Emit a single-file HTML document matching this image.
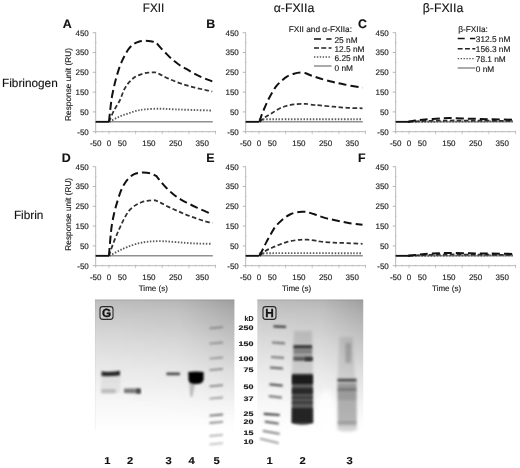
<!DOCTYPE html><html><head><meta charset="utf-8"><style>html,body{margin:0;padding:0;background:#fff;overflow:hidden}svg{display:block;filter:grayscale(1)}text{text-rendering:geometricPrecision;font-family:"Liberation Sans", sans-serif;stroke:#1a1a1a;stroke-width:0.15px}</style></head><body>
<svg width="520" height="468" viewBox="0 0 520 468">
<defs>
</defs>
<text transform="translate(153.5,11.5) scale(0.95,1)" font-size="12.3" text-anchor="middle" fill="#111">FXII</text>
<text x="294" y="11.5" font-size="12.3" text-anchor="middle" fill="#111">α-FXIIa</text>
<text x="443" y="11.5" font-size="12.3" text-anchor="middle" fill="#111">β-FXIIa</text>
<text x="2" y="86.5" font-size="11.8" fill="#111">Fibrinogen</text>
<text x="13.9" y="219.3" font-size="11.8" fill="#111">Fibrin</text>
<text x="62.8" y="28.3" font-size="12.4" font-weight="bold" fill="#111">A</text>
<line x1="95.7" y1="32.5" x2="95.7" y2="133.5" stroke="#a4a4a4" stroke-width="0.8"/>
<line x1="92.7" y1="131.7" x2="95.7" y2="131.7" stroke="#a4a4a4" stroke-width="0.8"/>
<text x="88.8" y="134.6" font-size="8" text-anchor="end" fill="#222">-50</text>
<line x1="94.7" y1="121.8" x2="96.7" y2="121.8" stroke="#c0c0c0" stroke-width="0.7"/>
<line x1="92.7" y1="111.9" x2="95.7" y2="111.9" stroke="#a4a4a4" stroke-width="0.8"/>
<text x="88.8" y="114.8" font-size="8" text-anchor="end" fill="#222">50</text>
<line x1="94.7" y1="102.0" x2="96.7" y2="102.0" stroke="#c0c0c0" stroke-width="0.7"/>
<line x1="92.7" y1="92.1" x2="95.7" y2="92.1" stroke="#a4a4a4" stroke-width="0.8"/>
<text x="88.8" y="95.0" font-size="8" text-anchor="end" fill="#222">150</text>
<line x1="94.7" y1="82.2" x2="96.7" y2="82.2" stroke="#c0c0c0" stroke-width="0.7"/>
<line x1="92.7" y1="72.3" x2="95.7" y2="72.3" stroke="#a4a4a4" stroke-width="0.8"/>
<text x="88.8" y="75.2" font-size="8" text-anchor="end" fill="#222">250</text>
<line x1="94.7" y1="62.4" x2="96.7" y2="62.4" stroke="#c0c0c0" stroke-width="0.7"/>
<line x1="92.7" y1="52.5" x2="95.7" y2="52.5" stroke="#a4a4a4" stroke-width="0.8"/>
<text x="88.8" y="55.4" font-size="8" text-anchor="end" fill="#222">350</text>
<line x1="94.7" y1="42.6" x2="96.7" y2="42.6" stroke="#c0c0c0" stroke-width="0.7"/>
<line x1="92.7" y1="32.7" x2="95.7" y2="32.7" stroke="#a4a4a4" stroke-width="0.8"/>
<text x="88.8" y="35.6" font-size="8" text-anchor="end" fill="#222">450</text>
<line x1="95.7" y1="131.7" x2="216.0" y2="131.7" stroke="#a4a4a4" stroke-width="0.8"/>
<line x1="95.7" y1="130.7" x2="95.7" y2="132.7" stroke="#c0c0c0" stroke-width="0.6"/>
<line x1="102.3" y1="130.7" x2="102.3" y2="132.7" stroke="#c0c0c0" stroke-width="0.6"/>
<line x1="109.0" y1="130.7" x2="109.0" y2="134.2" stroke="#b0b0b0" stroke-width="0.7"/>
<line x1="115.7" y1="130.7" x2="115.7" y2="132.7" stroke="#c0c0c0" stroke-width="0.6"/>
<line x1="122.3" y1="130.7" x2="122.3" y2="132.7" stroke="#c0c0c0" stroke-width="0.6"/>
<line x1="129.0" y1="130.7" x2="129.0" y2="132.7" stroke="#c0c0c0" stroke-width="0.6"/>
<line x1="135.6" y1="130.7" x2="135.6" y2="134.2" stroke="#b0b0b0" stroke-width="0.7"/>
<line x1="142.3" y1="130.7" x2="142.3" y2="132.7" stroke="#c0c0c0" stroke-width="0.6"/>
<line x1="148.9" y1="130.7" x2="148.9" y2="132.7" stroke="#c0c0c0" stroke-width="0.6"/>
<line x1="155.6" y1="130.7" x2="155.6" y2="132.7" stroke="#c0c0c0" stroke-width="0.6"/>
<line x1="162.2" y1="130.7" x2="162.2" y2="134.2" stroke="#b0b0b0" stroke-width="0.7"/>
<line x1="168.9" y1="130.7" x2="168.9" y2="132.7" stroke="#c0c0c0" stroke-width="0.6"/>
<line x1="175.6" y1="130.7" x2="175.6" y2="132.7" stroke="#c0c0c0" stroke-width="0.6"/>
<line x1="182.2" y1="130.7" x2="182.2" y2="132.7" stroke="#c0c0c0" stroke-width="0.6"/>
<line x1="188.9" y1="130.7" x2="188.9" y2="134.2" stroke="#b0b0b0" stroke-width="0.7"/>
<line x1="195.5" y1="130.7" x2="195.5" y2="132.7" stroke="#c0c0c0" stroke-width="0.6"/>
<line x1="202.2" y1="130.7" x2="202.2" y2="132.7" stroke="#c0c0c0" stroke-width="0.6"/>
<line x1="208.8" y1="130.7" x2="208.8" y2="132.7" stroke="#c0c0c0" stroke-width="0.6"/>
<line x1="215.5" y1="130.7" x2="215.5" y2="134.2" stroke="#b0b0b0" stroke-width="0.7"/>
<text x="95.7" y="145.7" font-size="8" text-anchor="middle" fill="#222">-50</text>
<text x="109.0" y="145.7" font-size="8" text-anchor="middle" fill="#222">0</text>
<text x="122.3" y="145.7" font-size="8" text-anchor="middle" fill="#222">50</text>
<text x="148.9" y="145.7" font-size="8" text-anchor="middle" fill="#222">150</text>
<text x="175.6" y="145.7" font-size="8" text-anchor="middle" fill="#222">250</text>
<text x="202.2" y="145.7" font-size="8" text-anchor="middle" fill="#222">350</text>
<text transform="translate(71.3,84.5) rotate(-90)" font-size="8.3" text-anchor="middle" fill="#222">Response unit (RU)</text>
<line x1="95.7" y1="121.8" x2="212.8" y2="121.8" stroke="#909090" stroke-width="1.6" fill="none"/>
<line x1="95.7" y1="121.8" x2="109.0" y2="121.8" stroke="#111" stroke-width="1.8"/>
<path d="M109.40,121.80 C110.88,121.02 115.35,118.43 118.30,117.10 C121.25,115.77 124.15,114.83 127.10,113.80 C130.05,112.77 133.05,111.63 136.00,110.90 C138.95,110.17 140.75,109.77 144.80,109.40 C148.85,109.03 155.13,108.70 160.30,108.70 C165.47,108.70 170.27,109.18 175.80,109.40 C181.33,109.62 187.42,109.82 193.50,110.00 C199.58,110.18 209.17,110.42 212.30,110.50" stroke="#5e5e5e" stroke-width="1.9" stroke-dasharray="1.5 1.6" fill="none"/>
<path d="M108.90,121.80 C109.75,119.92 112.15,114.13 114.00,110.50 C115.85,106.87 118.27,103.57 120.00,100.00 C121.73,96.43 122.78,92.17 124.40,89.10 C126.02,86.03 127.95,83.60 129.70,81.60 C131.45,79.60 132.92,78.35 134.90,77.10 C136.88,75.85 139.35,74.85 141.60,74.10 C143.85,73.35 146.15,72.90 148.40,72.60 C150.65,72.30 153.98,72.35 155.10,72.30 C156.00,72.68 158.37,73.58 160.50,74.60 C162.63,75.62 165.17,77.15 167.90,78.40 C170.63,79.65 173.90,80.98 176.90,82.10 C179.90,83.22 182.90,84.18 185.90,85.10 C188.90,86.02 191.92,86.85 194.90,87.60 C197.88,88.35 200.90,88.95 203.80,89.60 C206.70,90.25 210.88,91.18 212.30,91.50" stroke="#303030" stroke-width="1.75" stroke-dasharray="4.5 2.5" fill="none"/>
<path d="M108.90,121.80 C109.13,119.75 109.83,113.47 110.30,109.50 C110.77,105.53 111.08,101.78 111.70,98.00 C112.32,94.22 113.25,90.15 114.00,86.80 C114.75,83.45 115.33,81.02 116.20,77.90 C117.07,74.78 118.20,70.97 119.20,68.10 C120.20,65.23 121.20,62.93 122.20,60.70 C123.20,58.47 124.08,56.70 125.20,54.70 C126.32,52.70 127.53,50.45 128.90,48.70 C130.27,46.95 131.77,45.37 133.40,44.20 C135.03,43.03 136.83,42.27 138.70,41.70 C140.57,41.13 142.62,40.88 144.60,40.80 C146.58,40.72 148.65,40.90 150.60,41.20 C152.55,41.50 155.35,42.37 156.30,42.60 C157.00,43.45 159.05,46.10 160.50,47.70 C161.95,49.30 163.27,50.45 165.00,52.20 C166.73,53.95 168.67,56.20 170.90,58.20 C173.13,60.20 175.90,62.45 178.40,64.20 C180.90,65.95 183.40,67.22 185.90,68.70 C188.40,70.18 190.90,71.73 193.40,73.10 C195.90,74.47 198.42,75.77 200.90,76.90 C203.38,78.03 206.40,79.15 208.30,79.90 C210.20,80.65 211.63,81.15 212.30,81.40" stroke="#111" stroke-width="2" stroke-dasharray="8 4" fill="none"/>
<text x="206.2" y="28.3" font-size="12.4" font-weight="bold" fill="#111">B</text>
<line x1="245.7" y1="32.5" x2="245.7" y2="133.5" stroke="#a4a4a4" stroke-width="0.8"/>
<line x1="242.7" y1="131.7" x2="245.7" y2="131.7" stroke="#a4a4a4" stroke-width="0.8"/>
<text x="238.8" y="134.6" font-size="8" text-anchor="end" fill="#222">-50</text>
<line x1="244.7" y1="121.8" x2="246.7" y2="121.8" stroke="#c0c0c0" stroke-width="0.7"/>
<line x1="242.7" y1="111.9" x2="245.7" y2="111.9" stroke="#a4a4a4" stroke-width="0.8"/>
<text x="238.8" y="114.8" font-size="8" text-anchor="end" fill="#222">50</text>
<line x1="244.7" y1="102.0" x2="246.7" y2="102.0" stroke="#c0c0c0" stroke-width="0.7"/>
<line x1="242.7" y1="92.1" x2="245.7" y2="92.1" stroke="#a4a4a4" stroke-width="0.8"/>
<text x="238.8" y="95.0" font-size="8" text-anchor="end" fill="#222">150</text>
<line x1="244.7" y1="82.2" x2="246.7" y2="82.2" stroke="#c0c0c0" stroke-width="0.7"/>
<line x1="242.7" y1="72.3" x2="245.7" y2="72.3" stroke="#a4a4a4" stroke-width="0.8"/>
<text x="238.8" y="75.2" font-size="8" text-anchor="end" fill="#222">250</text>
<line x1="244.7" y1="62.4" x2="246.7" y2="62.4" stroke="#c0c0c0" stroke-width="0.7"/>
<line x1="242.7" y1="52.5" x2="245.7" y2="52.5" stroke="#a4a4a4" stroke-width="0.8"/>
<text x="238.8" y="55.4" font-size="8" text-anchor="end" fill="#222">350</text>
<line x1="244.7" y1="42.6" x2="246.7" y2="42.6" stroke="#c0c0c0" stroke-width="0.7"/>
<line x1="242.7" y1="32.7" x2="245.7" y2="32.7" stroke="#a4a4a4" stroke-width="0.8"/>
<text x="238.8" y="35.6" font-size="8" text-anchor="end" fill="#222">450</text>
<line x1="245.7" y1="131.7" x2="366.0" y2="131.7" stroke="#a4a4a4" stroke-width="0.8"/>
<line x1="245.7" y1="130.7" x2="245.7" y2="132.7" stroke="#c0c0c0" stroke-width="0.6"/>
<line x1="252.3" y1="130.7" x2="252.3" y2="132.7" stroke="#c0c0c0" stroke-width="0.6"/>
<line x1="259.0" y1="130.7" x2="259.0" y2="134.2" stroke="#b0b0b0" stroke-width="0.7"/>
<line x1="265.7" y1="130.7" x2="265.7" y2="132.7" stroke="#c0c0c0" stroke-width="0.6"/>
<line x1="272.3" y1="130.7" x2="272.3" y2="132.7" stroke="#c0c0c0" stroke-width="0.6"/>
<line x1="279.0" y1="130.7" x2="279.0" y2="132.7" stroke="#c0c0c0" stroke-width="0.6"/>
<line x1="285.6" y1="130.7" x2="285.6" y2="134.2" stroke="#b0b0b0" stroke-width="0.7"/>
<line x1="292.3" y1="130.7" x2="292.3" y2="132.7" stroke="#c0c0c0" stroke-width="0.6"/>
<line x1="298.9" y1="130.7" x2="298.9" y2="132.7" stroke="#c0c0c0" stroke-width="0.6"/>
<line x1="305.6" y1="130.7" x2="305.6" y2="132.7" stroke="#c0c0c0" stroke-width="0.6"/>
<line x1="312.2" y1="130.7" x2="312.2" y2="134.2" stroke="#b0b0b0" stroke-width="0.7"/>
<line x1="318.9" y1="130.7" x2="318.9" y2="132.7" stroke="#c0c0c0" stroke-width="0.6"/>
<line x1="325.6" y1="130.7" x2="325.6" y2="132.7" stroke="#c0c0c0" stroke-width="0.6"/>
<line x1="332.2" y1="130.7" x2="332.2" y2="132.7" stroke="#c0c0c0" stroke-width="0.6"/>
<line x1="338.9" y1="130.7" x2="338.9" y2="134.2" stroke="#b0b0b0" stroke-width="0.7"/>
<line x1="345.5" y1="130.7" x2="345.5" y2="132.7" stroke="#c0c0c0" stroke-width="0.6"/>
<line x1="352.2" y1="130.7" x2="352.2" y2="132.7" stroke="#c0c0c0" stroke-width="0.6"/>
<line x1="358.8" y1="130.7" x2="358.8" y2="132.7" stroke="#c0c0c0" stroke-width="0.6"/>
<line x1="365.5" y1="130.7" x2="365.5" y2="134.2" stroke="#b0b0b0" stroke-width="0.7"/>
<text x="245.7" y="145.7" font-size="8" text-anchor="middle" fill="#222">-50</text>
<text x="259.0" y="145.7" font-size="8" text-anchor="middle" fill="#222">0</text>
<text x="272.3" y="145.7" font-size="8" text-anchor="middle" fill="#222">50</text>
<text x="298.9" y="145.7" font-size="8" text-anchor="middle" fill="#222">150</text>
<text x="325.6" y="145.7" font-size="8" text-anchor="middle" fill="#222">250</text>
<text x="352.2" y="145.7" font-size="8" text-anchor="middle" fill="#222">350</text>
<line x1="245.7" y1="121.8" x2="362.8" y2="121.8" stroke="#909090" stroke-width="1.6" fill="none"/>
<line x1="245.7" y1="121.8" x2="259.0" y2="121.8" stroke="#111" stroke-width="1.8"/>
<path d="M260.00,121.80 C260.50,121.47 261.83,120.22 263.00,119.80 C264.17,119.38 250.42,119.38 267.00,119.30 C283.58,119.22 346.58,119.30 362.50,119.30" stroke="#5e5e5e" stroke-width="1.9" stroke-dasharray="1.5 1.6" fill="none"/>
<path d="M259.50,121.80 C260.55,120.97 263.63,118.30 265.80,116.80 C267.97,115.30 270.27,114.15 272.50,112.80 C274.73,111.45 276.95,109.83 279.20,108.70 C281.45,107.57 283.53,106.72 286.00,106.00 C288.47,105.28 291.32,104.77 294.00,104.40 C296.68,104.03 299.93,103.87 302.10,103.80 C304.27,103.73 306.18,103.97 307.00,104.00 C308.20,104.17 312.00,104.77 314.20,105.00 C316.40,105.23 316.97,105.12 320.20,105.40 C323.43,105.68 329.12,106.30 333.60,106.70 C338.08,107.10 342.28,107.53 347.10,107.80 C351.92,108.07 359.93,108.22 362.50,108.30" stroke="#303030" stroke-width="1.75" stroke-dasharray="4.5 2.5" fill="none"/>
<path d="M259.50,121.80 C259.87,120.63 260.77,117.32 261.70,114.80 C262.63,112.28 263.97,109.28 265.10,106.70 C266.23,104.12 267.27,101.77 268.50,99.30 C269.73,96.83 271.17,94.13 272.50,91.90 C273.83,89.67 274.93,87.80 276.50,85.90 C278.07,84.00 280.10,82.08 281.90,80.50 C283.70,78.92 285.28,77.53 287.30,76.40 C289.32,75.27 291.75,74.33 294.00,73.70 C296.25,73.07 298.83,72.68 300.80,72.60 C302.77,72.52 304.97,73.10 305.80,73.20 C306.85,73.63 309.70,74.92 312.10,75.80 C314.50,76.68 316.83,77.50 320.20,78.50 C323.57,79.50 328.27,80.80 332.30,81.80 C336.33,82.80 339.92,83.60 344.40,84.50 C348.88,85.40 356.18,86.67 359.20,87.20 C362.22,87.73 361.95,87.62 362.50,87.70" stroke="#111" stroke-width="2" stroke-dasharray="8 4" fill="none"/>
<text x="358.1" y="28.3" font-size="12.4" font-weight="bold" fill="#111">C</text>
<line x1="395.7" y1="32.5" x2="395.7" y2="133.5" stroke="#a4a4a4" stroke-width="0.8"/>
<line x1="392.7" y1="131.7" x2="395.7" y2="131.7" stroke="#a4a4a4" stroke-width="0.8"/>
<text x="388.8" y="134.6" font-size="8" text-anchor="end" fill="#222">-50</text>
<line x1="394.7" y1="121.8" x2="396.7" y2="121.8" stroke="#c0c0c0" stroke-width="0.7"/>
<line x1="392.7" y1="111.9" x2="395.7" y2="111.9" stroke="#a4a4a4" stroke-width="0.8"/>
<text x="388.8" y="114.8" font-size="8" text-anchor="end" fill="#222">50</text>
<line x1="394.7" y1="102.0" x2="396.7" y2="102.0" stroke="#c0c0c0" stroke-width="0.7"/>
<line x1="392.7" y1="92.1" x2="395.7" y2="92.1" stroke="#a4a4a4" stroke-width="0.8"/>
<text x="388.8" y="95.0" font-size="8" text-anchor="end" fill="#222">150</text>
<line x1="394.7" y1="82.2" x2="396.7" y2="82.2" stroke="#c0c0c0" stroke-width="0.7"/>
<line x1="392.7" y1="72.3" x2="395.7" y2="72.3" stroke="#a4a4a4" stroke-width="0.8"/>
<text x="388.8" y="75.2" font-size="8" text-anchor="end" fill="#222">250</text>
<line x1="394.7" y1="62.4" x2="396.7" y2="62.4" stroke="#c0c0c0" stroke-width="0.7"/>
<line x1="392.7" y1="52.5" x2="395.7" y2="52.5" stroke="#a4a4a4" stroke-width="0.8"/>
<text x="388.8" y="55.4" font-size="8" text-anchor="end" fill="#222">350</text>
<line x1="394.7" y1="42.6" x2="396.7" y2="42.6" stroke="#c0c0c0" stroke-width="0.7"/>
<line x1="392.7" y1="32.7" x2="395.7" y2="32.7" stroke="#a4a4a4" stroke-width="0.8"/>
<text x="388.8" y="35.6" font-size="8" text-anchor="end" fill="#222">450</text>
<line x1="395.7" y1="131.7" x2="516.0" y2="131.7" stroke="#a4a4a4" stroke-width="0.8"/>
<line x1="395.7" y1="130.7" x2="395.7" y2="132.7" stroke="#c0c0c0" stroke-width="0.6"/>
<line x1="402.3" y1="130.7" x2="402.3" y2="132.7" stroke="#c0c0c0" stroke-width="0.6"/>
<line x1="409.0" y1="130.7" x2="409.0" y2="134.2" stroke="#b0b0b0" stroke-width="0.7"/>
<line x1="415.7" y1="130.7" x2="415.7" y2="132.7" stroke="#c0c0c0" stroke-width="0.6"/>
<line x1="422.3" y1="130.7" x2="422.3" y2="132.7" stroke="#c0c0c0" stroke-width="0.6"/>
<line x1="429.0" y1="130.7" x2="429.0" y2="132.7" stroke="#c0c0c0" stroke-width="0.6"/>
<line x1="435.6" y1="130.7" x2="435.6" y2="134.2" stroke="#b0b0b0" stroke-width="0.7"/>
<line x1="442.3" y1="130.7" x2="442.3" y2="132.7" stroke="#c0c0c0" stroke-width="0.6"/>
<line x1="448.9" y1="130.7" x2="448.9" y2="132.7" stroke="#c0c0c0" stroke-width="0.6"/>
<line x1="455.6" y1="130.7" x2="455.6" y2="132.7" stroke="#c0c0c0" stroke-width="0.6"/>
<line x1="462.2" y1="130.7" x2="462.2" y2="134.2" stroke="#b0b0b0" stroke-width="0.7"/>
<line x1="468.9" y1="130.7" x2="468.9" y2="132.7" stroke="#c0c0c0" stroke-width="0.6"/>
<line x1="475.6" y1="130.7" x2="475.6" y2="132.7" stroke="#c0c0c0" stroke-width="0.6"/>
<line x1="482.2" y1="130.7" x2="482.2" y2="132.7" stroke="#c0c0c0" stroke-width="0.6"/>
<line x1="488.9" y1="130.7" x2="488.9" y2="134.2" stroke="#b0b0b0" stroke-width="0.7"/>
<line x1="495.5" y1="130.7" x2="495.5" y2="132.7" stroke="#c0c0c0" stroke-width="0.6"/>
<line x1="502.2" y1="130.7" x2="502.2" y2="132.7" stroke="#c0c0c0" stroke-width="0.6"/>
<line x1="508.8" y1="130.7" x2="508.8" y2="132.7" stroke="#c0c0c0" stroke-width="0.6"/>
<line x1="515.5" y1="130.7" x2="515.5" y2="134.2" stroke="#b0b0b0" stroke-width="0.7"/>
<text x="395.7" y="145.7" font-size="8" text-anchor="middle" fill="#222">-50</text>
<text x="409.0" y="145.7" font-size="8" text-anchor="middle" fill="#222">0</text>
<text x="422.3" y="145.7" font-size="8" text-anchor="middle" fill="#222">50</text>
<text x="448.9" y="145.7" font-size="8" text-anchor="middle" fill="#222">150</text>
<text x="475.6" y="145.7" font-size="8" text-anchor="middle" fill="#222">250</text>
<text x="502.2" y="145.7" font-size="8" text-anchor="middle" fill="#222">350</text>
<line x1="395.7" y1="121.8" x2="513.0" y2="121.8" stroke="#909090" stroke-width="1.6" fill="none"/>
<line x1="395.7" y1="121.8" x2="409.0" y2="121.8" stroke="#111" stroke-width="1.8"/>
<path d="M409.00,121.80 C426.33,121.72 495.67,121.38 513.00,121.30" stroke="#5e5e5e" stroke-width="1.9" stroke-dasharray="1.5 1.6" fill="none"/>
<path d="M408.00,121.80 C410.00,121.70 415.50,121.38 420.00,121.20 C424.50,121.02 430.00,120.82 435.00,120.70 C440.00,120.58 444.17,120.52 450.00,120.50 C455.83,120.48 459.50,120.53 470.00,120.60 C480.50,120.67 505.83,120.85 513.00,120.90" stroke="#303030" stroke-width="1.75" stroke-dasharray="4.5 2.5" fill="none"/>
<path d="M408.00,121.80 C409.17,121.60 412.17,121.00 415.00,120.60 C417.83,120.20 420.83,119.75 425.00,119.40 C429.17,119.05 435.83,118.72 440.00,118.50 C444.17,118.28 445.00,118.07 450.00,118.10 C455.00,118.13 463.33,118.52 470.00,118.70 C476.67,118.88 482.83,119.03 490.00,119.20 C497.17,119.37 509.17,119.62 513.00,119.70" stroke="#111" stroke-width="2" stroke-dasharray="8 4" fill="none"/>
<text x="61.7" y="162.0" font-size="12.4" font-weight="bold" fill="#111">D</text>
<line x1="95.7" y1="166.5" x2="95.7" y2="267.5" stroke="#a4a4a4" stroke-width="0.8"/>
<line x1="92.7" y1="265.7" x2="95.7" y2="265.7" stroke="#a4a4a4" stroke-width="0.8"/>
<text x="88.8" y="268.6" font-size="8" text-anchor="end" fill="#222">-50</text>
<line x1="94.7" y1="255.8" x2="96.7" y2="255.8" stroke="#c0c0c0" stroke-width="0.7"/>
<line x1="92.7" y1="245.9" x2="95.7" y2="245.9" stroke="#a4a4a4" stroke-width="0.8"/>
<text x="88.8" y="248.8" font-size="8" text-anchor="end" fill="#222">50</text>
<line x1="94.7" y1="236.0" x2="96.7" y2="236.0" stroke="#c0c0c0" stroke-width="0.7"/>
<line x1="92.7" y1="226.1" x2="95.7" y2="226.1" stroke="#a4a4a4" stroke-width="0.8"/>
<text x="88.8" y="229.0" font-size="8" text-anchor="end" fill="#222">150</text>
<line x1="94.7" y1="216.2" x2="96.7" y2="216.2" stroke="#c0c0c0" stroke-width="0.7"/>
<line x1="92.7" y1="206.3" x2="95.7" y2="206.3" stroke="#a4a4a4" stroke-width="0.8"/>
<text x="88.8" y="209.2" font-size="8" text-anchor="end" fill="#222">250</text>
<line x1="94.7" y1="196.4" x2="96.7" y2="196.4" stroke="#c0c0c0" stroke-width="0.7"/>
<line x1="92.7" y1="186.5" x2="95.7" y2="186.5" stroke="#a4a4a4" stroke-width="0.8"/>
<text x="88.8" y="189.4" font-size="8" text-anchor="end" fill="#222">350</text>
<line x1="94.7" y1="176.6" x2="96.7" y2="176.6" stroke="#c0c0c0" stroke-width="0.7"/>
<line x1="92.7" y1="166.7" x2="95.7" y2="166.7" stroke="#a4a4a4" stroke-width="0.8"/>
<text x="88.8" y="169.6" font-size="8" text-anchor="end" fill="#222">450</text>
<line x1="95.7" y1="265.7" x2="216.0" y2="265.7" stroke="#a4a4a4" stroke-width="0.8"/>
<line x1="95.7" y1="264.7" x2="95.7" y2="266.7" stroke="#c0c0c0" stroke-width="0.6"/>
<line x1="102.3" y1="264.7" x2="102.3" y2="266.7" stroke="#c0c0c0" stroke-width="0.6"/>
<line x1="109.0" y1="264.7" x2="109.0" y2="268.2" stroke="#b0b0b0" stroke-width="0.7"/>
<line x1="115.7" y1="264.7" x2="115.7" y2="266.7" stroke="#c0c0c0" stroke-width="0.6"/>
<line x1="122.3" y1="264.7" x2="122.3" y2="266.7" stroke="#c0c0c0" stroke-width="0.6"/>
<line x1="129.0" y1="264.7" x2="129.0" y2="266.7" stroke="#c0c0c0" stroke-width="0.6"/>
<line x1="135.6" y1="264.7" x2="135.6" y2="268.2" stroke="#b0b0b0" stroke-width="0.7"/>
<line x1="142.3" y1="264.7" x2="142.3" y2="266.7" stroke="#c0c0c0" stroke-width="0.6"/>
<line x1="148.9" y1="264.7" x2="148.9" y2="266.7" stroke="#c0c0c0" stroke-width="0.6"/>
<line x1="155.6" y1="264.7" x2="155.6" y2="266.7" stroke="#c0c0c0" stroke-width="0.6"/>
<line x1="162.2" y1="264.7" x2="162.2" y2="268.2" stroke="#b0b0b0" stroke-width="0.7"/>
<line x1="168.9" y1="264.7" x2="168.9" y2="266.7" stroke="#c0c0c0" stroke-width="0.6"/>
<line x1="175.6" y1="264.7" x2="175.6" y2="266.7" stroke="#c0c0c0" stroke-width="0.6"/>
<line x1="182.2" y1="264.7" x2="182.2" y2="266.7" stroke="#c0c0c0" stroke-width="0.6"/>
<line x1="188.9" y1="264.7" x2="188.9" y2="268.2" stroke="#b0b0b0" stroke-width="0.7"/>
<line x1="195.5" y1="264.7" x2="195.5" y2="266.7" stroke="#c0c0c0" stroke-width="0.6"/>
<line x1="202.2" y1="264.7" x2="202.2" y2="266.7" stroke="#c0c0c0" stroke-width="0.6"/>
<line x1="208.8" y1="264.7" x2="208.8" y2="266.7" stroke="#c0c0c0" stroke-width="0.6"/>
<line x1="215.5" y1="264.7" x2="215.5" y2="268.2" stroke="#b0b0b0" stroke-width="0.7"/>
<text x="95.7" y="279.7" font-size="8" text-anchor="middle" fill="#222">-50</text>
<text x="109.0" y="279.7" font-size="8" text-anchor="middle" fill="#222">0</text>
<text x="122.3" y="279.7" font-size="8" text-anchor="middle" fill="#222">50</text>
<text x="148.9" y="279.7" font-size="8" text-anchor="middle" fill="#222">150</text>
<text x="175.6" y="279.7" font-size="8" text-anchor="middle" fill="#222">250</text>
<text x="202.2" y="279.7" font-size="8" text-anchor="middle" fill="#222">350</text>
<text transform="translate(71.3,214.3) rotate(-90)" font-size="8.3" text-anchor="middle" fill="#222">Response unit (RU)</text>
<text x="153.3" y="291" font-size="8" text-anchor="middle" fill="#222">Time (s)</text>
<line x1="95.7" y1="255.8" x2="212.8" y2="255.8" stroke="#909090" stroke-width="1.6" fill="none"/>
<line x1="95.7" y1="255.8" x2="109.0" y2="255.8" stroke="#111" stroke-width="1.8"/>
<path d="M109.40,255.80 C110.88,255.02 115.35,252.55 118.30,251.10 C121.25,249.65 123.78,248.38 127.10,247.10 C130.42,245.82 134.52,244.32 138.20,243.40 C141.88,242.48 145.15,241.97 149.20,241.60 C153.25,241.23 157.70,241.08 162.50,241.20 C167.30,241.32 172.83,241.93 178.00,242.30 C183.17,242.67 187.97,243.15 193.50,243.40 C199.03,243.65 208.25,243.73 211.20,243.80" stroke="#5e5e5e" stroke-width="1.9" stroke-dasharray="1.5 1.6" fill="none"/>
<path d="M108.90,255.80 C109.58,253.83 111.53,247.88 113.00,244.00 C114.47,240.12 116.42,235.53 117.70,232.50 C118.98,229.47 119.58,228.17 120.70,225.80 C121.82,223.43 123.03,220.78 124.40,218.30 C125.77,215.82 127.15,213.02 128.90,210.90 C130.65,208.78 132.78,207.05 134.90,205.60 C137.02,204.15 139.35,203.02 141.60,202.20 C143.85,201.38 146.15,201.03 148.40,200.70 C150.65,200.37 153.98,200.28 155.10,200.20 C156.00,200.60 158.37,201.53 160.50,202.60 C162.63,203.67 165.17,205.25 167.90,206.60 C170.63,207.95 173.90,209.37 176.90,210.70 C179.90,212.03 182.90,213.40 185.90,214.60 C188.90,215.80 191.92,216.85 194.90,217.90 C197.88,218.95 201.18,220.12 203.80,220.90 C206.42,221.68 209.18,222.25 210.60,222.60 C212.02,222.95 212.02,222.93 212.30,223.00" stroke="#303030" stroke-width="1.75" stroke-dasharray="4.5 2.5" fill="none"/>
<path d="M108.90,255.80 C109.25,251.80 110.40,237.55 111.00,231.80 C111.60,226.05 111.88,224.78 112.50,221.30 C113.12,217.82 113.83,214.38 114.70,210.90 C115.57,207.42 116.70,203.65 117.70,200.40 C118.70,197.15 119.58,194.15 120.70,191.40 C121.82,188.65 123.03,186.13 124.40,183.90 C125.77,181.67 127.27,179.62 128.90,178.00 C130.53,176.38 132.33,175.08 134.20,174.20 C136.07,173.32 137.98,172.95 140.10,172.70 C142.22,172.45 144.90,172.52 146.90,172.70 C148.90,172.88 150.53,173.25 152.10,173.80 C153.67,174.35 155.60,175.63 156.30,176.00 C157.00,176.87 158.80,179.20 160.50,181.20 C162.20,183.20 164.27,185.75 166.50,188.00 C168.73,190.25 171.42,192.72 173.90,194.70 C176.38,196.68 178.90,198.40 181.40,199.90 C183.90,201.40 186.40,202.45 188.90,203.70 C191.40,204.95 193.92,206.23 196.40,207.40 C198.88,208.57 201.43,209.65 203.80,210.70 C206.17,211.75 209.18,213.10 210.60,213.70 C212.02,214.30 212.02,214.20 212.30,214.30" stroke="#111" stroke-width="2" stroke-dasharray="8 4" fill="none"/>
<text x="206.2" y="162.0" font-size="12.4" font-weight="bold" fill="#111">E</text>
<line x1="245.7" y1="166.5" x2="245.7" y2="267.5" stroke="#a4a4a4" stroke-width="0.8"/>
<line x1="242.7" y1="265.7" x2="245.7" y2="265.7" stroke="#a4a4a4" stroke-width="0.8"/>
<text x="238.8" y="268.6" font-size="8" text-anchor="end" fill="#222">-50</text>
<line x1="244.7" y1="255.8" x2="246.7" y2="255.8" stroke="#c0c0c0" stroke-width="0.7"/>
<line x1="242.7" y1="245.9" x2="245.7" y2="245.9" stroke="#a4a4a4" stroke-width="0.8"/>
<text x="238.8" y="248.8" font-size="8" text-anchor="end" fill="#222">50</text>
<line x1="244.7" y1="236.0" x2="246.7" y2="236.0" stroke="#c0c0c0" stroke-width="0.7"/>
<line x1="242.7" y1="226.1" x2="245.7" y2="226.1" stroke="#a4a4a4" stroke-width="0.8"/>
<text x="238.8" y="229.0" font-size="8" text-anchor="end" fill="#222">150</text>
<line x1="244.7" y1="216.2" x2="246.7" y2="216.2" stroke="#c0c0c0" stroke-width="0.7"/>
<line x1="242.7" y1="206.3" x2="245.7" y2="206.3" stroke="#a4a4a4" stroke-width="0.8"/>
<text x="238.8" y="209.2" font-size="8" text-anchor="end" fill="#222">250</text>
<line x1="244.7" y1="196.4" x2="246.7" y2="196.4" stroke="#c0c0c0" stroke-width="0.7"/>
<line x1="242.7" y1="186.5" x2="245.7" y2="186.5" stroke="#a4a4a4" stroke-width="0.8"/>
<text x="238.8" y="189.4" font-size="8" text-anchor="end" fill="#222">350</text>
<line x1="244.7" y1="176.6" x2="246.7" y2="176.6" stroke="#c0c0c0" stroke-width="0.7"/>
<line x1="242.7" y1="166.7" x2="245.7" y2="166.7" stroke="#a4a4a4" stroke-width="0.8"/>
<text x="238.8" y="169.6" font-size="8" text-anchor="end" fill="#222">450</text>
<line x1="245.7" y1="265.7" x2="366.0" y2="265.7" stroke="#a4a4a4" stroke-width="0.8"/>
<line x1="245.7" y1="264.7" x2="245.7" y2="266.7" stroke="#c0c0c0" stroke-width="0.6"/>
<line x1="252.3" y1="264.7" x2="252.3" y2="266.7" stroke="#c0c0c0" stroke-width="0.6"/>
<line x1="259.0" y1="264.7" x2="259.0" y2="268.2" stroke="#b0b0b0" stroke-width="0.7"/>
<line x1="265.7" y1="264.7" x2="265.7" y2="266.7" stroke="#c0c0c0" stroke-width="0.6"/>
<line x1="272.3" y1="264.7" x2="272.3" y2="266.7" stroke="#c0c0c0" stroke-width="0.6"/>
<line x1="279.0" y1="264.7" x2="279.0" y2="266.7" stroke="#c0c0c0" stroke-width="0.6"/>
<line x1="285.6" y1="264.7" x2="285.6" y2="268.2" stroke="#b0b0b0" stroke-width="0.7"/>
<line x1="292.3" y1="264.7" x2="292.3" y2="266.7" stroke="#c0c0c0" stroke-width="0.6"/>
<line x1="298.9" y1="264.7" x2="298.9" y2="266.7" stroke="#c0c0c0" stroke-width="0.6"/>
<line x1="305.6" y1="264.7" x2="305.6" y2="266.7" stroke="#c0c0c0" stroke-width="0.6"/>
<line x1="312.2" y1="264.7" x2="312.2" y2="268.2" stroke="#b0b0b0" stroke-width="0.7"/>
<line x1="318.9" y1="264.7" x2="318.9" y2="266.7" stroke="#c0c0c0" stroke-width="0.6"/>
<line x1="325.6" y1="264.7" x2="325.6" y2="266.7" stroke="#c0c0c0" stroke-width="0.6"/>
<line x1="332.2" y1="264.7" x2="332.2" y2="266.7" stroke="#c0c0c0" stroke-width="0.6"/>
<line x1="338.9" y1="264.7" x2="338.9" y2="268.2" stroke="#b0b0b0" stroke-width="0.7"/>
<line x1="345.5" y1="264.7" x2="345.5" y2="266.7" stroke="#c0c0c0" stroke-width="0.6"/>
<line x1="352.2" y1="264.7" x2="352.2" y2="266.7" stroke="#c0c0c0" stroke-width="0.6"/>
<line x1="358.8" y1="264.7" x2="358.8" y2="266.7" stroke="#c0c0c0" stroke-width="0.6"/>
<line x1="365.5" y1="264.7" x2="365.5" y2="268.2" stroke="#b0b0b0" stroke-width="0.7"/>
<text x="245.7" y="279.7" font-size="8" text-anchor="middle" fill="#222">-50</text>
<text x="259.0" y="279.7" font-size="8" text-anchor="middle" fill="#222">0</text>
<text x="272.3" y="279.7" font-size="8" text-anchor="middle" fill="#222">50</text>
<text x="298.9" y="279.7" font-size="8" text-anchor="middle" fill="#222">150</text>
<text x="325.6" y="279.7" font-size="8" text-anchor="middle" fill="#222">250</text>
<text x="352.2" y="279.7" font-size="8" text-anchor="middle" fill="#222">350</text>
<text x="296.6" y="291" font-size="8" text-anchor="middle" fill="#222">Time (s)</text>
<line x1="245.7" y1="255.8" x2="362.8" y2="255.8" stroke="#909090" stroke-width="1.6" fill="none"/>
<line x1="245.7" y1="255.8" x2="259.0" y2="255.8" stroke="#111" stroke-width="1.8"/>
<path d="M260.00,255.80 C260.50,255.47 261.83,254.23 263.00,253.80 C264.17,253.37 250.42,253.30 267.00,253.20 C283.58,253.10 346.58,253.20 362.50,253.20" stroke="#5e5e5e" stroke-width="1.9" stroke-dasharray="1.5 1.6" fill="none"/>
<path d="M259.50,255.80 C260.55,254.97 263.63,252.18 265.80,250.80 C267.97,249.42 270.27,248.50 272.50,247.50 C274.73,246.50 276.95,245.67 279.20,244.80 C281.45,243.93 283.53,243.02 286.00,242.30 C288.47,241.58 291.32,240.95 294.00,240.50 C296.68,240.05 299.85,239.73 302.10,239.60 C304.35,239.47 306.60,239.68 307.50,239.70 C308.85,239.87 313.48,240.40 315.60,240.70 C317.72,241.00 317.20,241.18 320.20,241.50 C323.20,241.82 329.12,242.33 333.60,242.60 C338.08,242.87 342.28,242.90 347.10,243.10 C351.92,243.30 359.93,243.68 362.50,243.80" stroke="#303030" stroke-width="1.75" stroke-dasharray="4.5 2.5" fill="none"/>
<path d="M259.50,255.80 C260.10,254.63 261.95,251.08 263.10,248.80 C264.25,246.52 265.17,244.45 266.40,242.10 C267.63,239.75 269.15,237.07 270.50,234.70 C271.85,232.33 273.05,229.92 274.50,227.90 C275.95,225.88 277.52,224.28 279.20,222.60 C280.88,220.92 282.80,219.15 284.60,217.80 C286.40,216.45 288.20,215.38 290.00,214.50 C291.80,213.62 293.38,212.95 295.40,212.50 C297.42,212.05 300.25,211.90 302.10,211.80 C303.95,211.70 305.77,211.88 306.50,211.90 C307.22,212.10 308.97,212.52 310.80,213.10 C312.63,213.68 315.03,214.57 317.50,215.40 C319.97,216.23 322.47,217.25 325.60,218.10 C328.73,218.95 332.48,219.68 336.30,220.50 C340.12,221.32 344.13,222.28 348.50,223.00 C352.87,223.72 360.17,224.50 362.50,224.80" stroke="#111" stroke-width="2" stroke-dasharray="8 4" fill="none"/>
<text x="357.9" y="162.0" font-size="12.4" font-weight="bold" fill="#111">F</text>
<line x1="395.7" y1="166.5" x2="395.7" y2="267.5" stroke="#a4a4a4" stroke-width="0.8"/>
<line x1="392.7" y1="265.7" x2="395.7" y2="265.7" stroke="#a4a4a4" stroke-width="0.8"/>
<text x="388.8" y="268.6" font-size="8" text-anchor="end" fill="#222">-50</text>
<line x1="394.7" y1="255.8" x2="396.7" y2="255.8" stroke="#c0c0c0" stroke-width="0.7"/>
<line x1="392.7" y1="245.9" x2="395.7" y2="245.9" stroke="#a4a4a4" stroke-width="0.8"/>
<text x="388.8" y="248.8" font-size="8" text-anchor="end" fill="#222">50</text>
<line x1="394.7" y1="236.0" x2="396.7" y2="236.0" stroke="#c0c0c0" stroke-width="0.7"/>
<line x1="392.7" y1="226.1" x2="395.7" y2="226.1" stroke="#a4a4a4" stroke-width="0.8"/>
<text x="388.8" y="229.0" font-size="8" text-anchor="end" fill="#222">150</text>
<line x1="394.7" y1="216.2" x2="396.7" y2="216.2" stroke="#c0c0c0" stroke-width="0.7"/>
<line x1="392.7" y1="206.3" x2="395.7" y2="206.3" stroke="#a4a4a4" stroke-width="0.8"/>
<text x="388.8" y="209.2" font-size="8" text-anchor="end" fill="#222">250</text>
<line x1="394.7" y1="196.4" x2="396.7" y2="196.4" stroke="#c0c0c0" stroke-width="0.7"/>
<line x1="392.7" y1="186.5" x2="395.7" y2="186.5" stroke="#a4a4a4" stroke-width="0.8"/>
<text x="388.8" y="189.4" font-size="8" text-anchor="end" fill="#222">350</text>
<line x1="394.7" y1="176.6" x2="396.7" y2="176.6" stroke="#c0c0c0" stroke-width="0.7"/>
<line x1="392.7" y1="166.7" x2="395.7" y2="166.7" stroke="#a4a4a4" stroke-width="0.8"/>
<text x="388.8" y="169.6" font-size="8" text-anchor="end" fill="#222">450</text>
<line x1="395.7" y1="265.7" x2="516.0" y2="265.7" stroke="#a4a4a4" stroke-width="0.8"/>
<line x1="395.7" y1="264.7" x2="395.7" y2="266.7" stroke="#c0c0c0" stroke-width="0.6"/>
<line x1="402.3" y1="264.7" x2="402.3" y2="266.7" stroke="#c0c0c0" stroke-width="0.6"/>
<line x1="409.0" y1="264.7" x2="409.0" y2="268.2" stroke="#b0b0b0" stroke-width="0.7"/>
<line x1="415.7" y1="264.7" x2="415.7" y2="266.7" stroke="#c0c0c0" stroke-width="0.6"/>
<line x1="422.3" y1="264.7" x2="422.3" y2="266.7" stroke="#c0c0c0" stroke-width="0.6"/>
<line x1="429.0" y1="264.7" x2="429.0" y2="266.7" stroke="#c0c0c0" stroke-width="0.6"/>
<line x1="435.6" y1="264.7" x2="435.6" y2="268.2" stroke="#b0b0b0" stroke-width="0.7"/>
<line x1="442.3" y1="264.7" x2="442.3" y2="266.7" stroke="#c0c0c0" stroke-width="0.6"/>
<line x1="448.9" y1="264.7" x2="448.9" y2="266.7" stroke="#c0c0c0" stroke-width="0.6"/>
<line x1="455.6" y1="264.7" x2="455.6" y2="266.7" stroke="#c0c0c0" stroke-width="0.6"/>
<line x1="462.2" y1="264.7" x2="462.2" y2="268.2" stroke="#b0b0b0" stroke-width="0.7"/>
<line x1="468.9" y1="264.7" x2="468.9" y2="266.7" stroke="#c0c0c0" stroke-width="0.6"/>
<line x1="475.6" y1="264.7" x2="475.6" y2="266.7" stroke="#c0c0c0" stroke-width="0.6"/>
<line x1="482.2" y1="264.7" x2="482.2" y2="266.7" stroke="#c0c0c0" stroke-width="0.6"/>
<line x1="488.9" y1="264.7" x2="488.9" y2="268.2" stroke="#b0b0b0" stroke-width="0.7"/>
<line x1="495.5" y1="264.7" x2="495.5" y2="266.7" stroke="#c0c0c0" stroke-width="0.6"/>
<line x1="502.2" y1="264.7" x2="502.2" y2="266.7" stroke="#c0c0c0" stroke-width="0.6"/>
<line x1="508.8" y1="264.7" x2="508.8" y2="266.7" stroke="#c0c0c0" stroke-width="0.6"/>
<line x1="515.5" y1="264.7" x2="515.5" y2="268.2" stroke="#b0b0b0" stroke-width="0.7"/>
<text x="395.7" y="279.7" font-size="8" text-anchor="middle" fill="#222">-50</text>
<text x="409.0" y="279.7" font-size="8" text-anchor="middle" fill="#222">0</text>
<text x="422.3" y="279.7" font-size="8" text-anchor="middle" fill="#222">50</text>
<text x="448.9" y="279.7" font-size="8" text-anchor="middle" fill="#222">150</text>
<text x="475.6" y="279.7" font-size="8" text-anchor="middle" fill="#222">250</text>
<text x="502.2" y="279.7" font-size="8" text-anchor="middle" fill="#222">350</text>
<text x="446.6" y="291" font-size="8" text-anchor="middle" fill="#222">Time (s)</text>
<line x1="395.7" y1="255.8" x2="513.0" y2="255.8" stroke="#909090" stroke-width="1.6" fill="none"/>
<line x1="395.7" y1="255.8" x2="409.0" y2="255.8" stroke="#111" stroke-width="1.8"/>
<path d="M409.00,255.80 C426.33,255.72 495.67,255.38 513.00,255.30" stroke="#5e5e5e" stroke-width="1.9" stroke-dasharray="1.5 1.6" fill="none"/>
<path d="M408.00,255.80 C410.00,255.70 415.50,255.38 420.00,255.20 C424.50,255.02 430.00,254.82 435.00,254.70 C440.00,254.58 444.17,254.52 450.00,254.50 C455.83,254.48 459.50,254.53 470.00,254.60 C480.50,254.67 505.83,254.85 513.00,254.90" stroke="#303030" stroke-width="1.75" stroke-dasharray="4.5 2.5" fill="none"/>
<path d="M408.00,255.80 C409.17,255.67 412.17,255.30 415.00,255.00 C417.83,254.70 420.83,254.30 425.00,254.00 C429.17,253.70 435.83,253.37 440.00,253.20 C444.17,253.03 445.00,252.98 450.00,253.00 C455.00,253.02 463.33,253.20 470.00,253.30 C476.67,253.40 482.83,253.50 490.00,253.60 C497.17,253.70 509.17,253.85 513.00,253.90" stroke="#111" stroke-width="2" stroke-dasharray="8 4" fill="none"/>
<text x="288.7" y="32.3" font-size="8.3" fill="#222">FXII and α-FXIIa:</text>
<line x1="314.0" y1="39.0" x2="331.5" y2="39.0" stroke="#111" stroke-width="1.55" stroke-dasharray="7 5.3" fill="none"/>
<text x="334.5" y="43.0" font-size="8.3" fill="#222">25 nM</text>
<line x1="314.0" y1="48.0" x2="331.5" y2="48.0" stroke="#222" stroke-width="1.45" stroke-dasharray="4.9 2.4" fill="none"/>
<text x="334.5" y="52.4" font-size="8.3" fill="#222">12.5 nM</text>
<line x1="314.0" y1="57.0" x2="331.5" y2="57.0" stroke="#555" stroke-width="1.45" stroke-dasharray="1.4 1.5" fill="none"/>
<text x="334.5" y="61.2" font-size="8.3" fill="#222">6.25 nM</text>
<line x1="314.0" y1="66.0" x2="331.5" y2="66.0" stroke="#8a8a8a" stroke-width="1.45" fill="none"/>
<text x="334.5" y="70.6" font-size="8.3" fill="#222">0 nM</text>
<text x="458.2" y="32.3" font-size="8.3" fill="#222">β-FXIIa:</text>
<line x1="457.7" y1="38.4" x2="475.3" y2="38.4" stroke="#111" stroke-width="1.55" stroke-dasharray="7 5.3" fill="none"/>
<text x="475.8" y="42.0" font-size="8.3" fill="#222">312.5 nM</text>
<line x1="457.7" y1="48.8" x2="475.3" y2="48.8" stroke="#222" stroke-width="1.45" stroke-dasharray="4.9 2.4" fill="none"/>
<text x="475.8" y="52.3" font-size="8.3" fill="#222">156.3 nM</text>
<line x1="457.7" y1="58.6" x2="475.3" y2="58.6" stroke="#555" stroke-width="1.45" stroke-dasharray="1.4 1.5" fill="none"/>
<text x="475.8" y="62.3" font-size="8.3" fill="#222">78.1 nM</text>
<line x1="457.7" y1="68.0" x2="475.3" y2="68.0" stroke="#8a8a8a" stroke-width="1.45" fill="none"/>
<text x="475.8" y="71.5" font-size="8.3" fill="#222">0 nM</text>
<defs>
<linearGradient id="gV" x1="0" y1="0" x2="0" y2="1"><stop offset="0" stop-color="#bcbcbc"/><stop offset="0.08" stop-color="#c8c8c8"/><stop offset="0.25" stop-color="#d9d9d9"/><stop offset="0.45" stop-color="#e9e9e9"/><stop offset="0.68" stop-color="#f7f7f7"/><stop offset="0.88" stop-color="#ffffff"/></linearGradient>
<linearGradient id="gHz" x1="0" y1="0" x2="1" y2="0"><stop offset="0" stop-color="#000" stop-opacity="0"/><stop offset="0.6" stop-color="#000" stop-opacity="0.03"/><stop offset="1" stop-color="#000" stop-opacity="0.16"/></linearGradient>
<linearGradient id="gFade" x1="0" y1="0" x2="0" y2="1"><stop offset="0" stop-color="#fff"/><stop offset="0.5" stop-color="#fff" stop-opacity="0.3"/><stop offset="0.8" stop-color="#fff" stop-opacity="0"/></linearGradient>
<mask id="mFade" maskContentUnits="objectBoundingBox"><rect width="1" height="1" fill="url(#gFade)"/></mask>
<filter id="b06" x="-30%" y="-100%" width="160%" height="300%"><feGaussianBlur stdDeviation="0.85"/></filter>
<filter id="b1" x="-30%" y="-100%" width="160%" height="300%"><feGaussianBlur stdDeviation="1"/></filter>
<filter id="b15" x="-30%" y="-30%" width="160%" height="160%"><feGaussianBlur stdDeviation="1.5"/></filter>
<filter id="b25" x="-30%" y="-30%" width="160%" height="160%"><feGaussianBlur stdDeviation="2.5"/></filter>
</defs>
<rect x="95.0" y="299.5" width="139.5" height="152" fill="url(#gV)"/>
<rect x="95.0" y="299.5" width="139.5" height="152" fill="url(#gHz)" mask="url(#mFade)"/>
<rect x="257.3" y="299.5" width="106.0" height="152" fill="url(#gV)"/>
<rect x="257.3" y="299.5" width="106.0" height="152" fill="url(#gHz)" mask="url(#mFade)"/>
<line x1="95.3" y1="300" x2="95.3" y2="430" stroke="#000" stroke-opacity="0.06" stroke-width="0.8"/>
<line x1="95" y1="300" x2="234.5" y2="300" stroke="#000" stroke-opacity="0.1" stroke-width="1"/>
<line x1="257.3" y1="300" x2="363.3" y2="300" stroke="#000" stroke-opacity="0.1" stroke-width="1"/>
<rect x="100.0" y="306.6" width="13" height="12.8" rx="2.6" fill="#cdcdcd" stroke="#2a2a2a" stroke-width="1.1"/>
<text x="106.5" y="317" font-size="11.8" font-weight="bold" text-anchor="middle" fill="#111" style="stroke-width:0.35px">G</text>
<rect x="263.0" y="306.6" width="13" height="12.8" rx="2.6" fill="#cdcdcd" stroke="#2a2a2a" stroke-width="1.1"/>
<text x="269.5" y="317" font-size="11.8" font-weight="bold" text-anchor="middle" fill="#111" style="stroke-width:0.35px">H</text>
<rect x="101" y="376" width="19.5" height="17" fill="#000" fill-opacity="0.06" filter="url(#b1)"/>
<rect x="101" y="389" width="15" height="4.4" rx="1.5" fill="#000" fill-opacity="0.17" filter="url(#b1)"/>
<path d="M101.5,371.3 Q110.5,372.6 120,370.8 L120,375.6 Q110.5,376.6 101.5,376 Z" fill="#262626" filter="url(#b06)"/>
<path d="M124,388.4 L140,388.6 L140.5,393.6 L124,393 Z" fill="#7a7a7a" filter="url(#b06)"/>
<rect x="136.5" y="388.8" width="4" height="4.6" fill="#444" filter="url(#b06)"/>
<rect x="166.3" y="372.6" width="13.8" height="2.6" rx="1" fill="#4a4a4a" filter="url(#b06)"/>
<path d="M189,378 L190.3,397 L192.3,397 L196,380 Z" fill="#000" fill-opacity="0.22" filter="url(#b1)"/>
<path d="M188.3,372 Q196,370.8 203.6,372 L203.6,379.5 Q203,384 196,384 Q189,384 188.6,380 Z" fill="#000" filter="url(#b06)"/>
<path d="M209.5,327.5 L223,326.3 L223,328.1 L209.5,329.3 Z" fill="#000" fill-opacity="0.32" filter="url(#b06)"/>
<path d="M209.5,342.8 L223,341.6 L223,343.4 L209.5,344.6 Z" fill="#000" fill-opacity="0.30" filter="url(#b06)"/>
<path d="M209.5,357.8 L223,356.6 L223,358.4 L209.5,359.6 Z" fill="#000" fill-opacity="0.30" filter="url(#b06)"/>
<path d="M209.5,369.2 L223,368.0 L223,369.8 L209.5,371.0 Z" fill="#000" fill-opacity="0.40" filter="url(#b06)"/>
<path d="M209.5,385.5 L223,384.3 L223,386.1 L209.5,387.3 Z" fill="#000" fill-opacity="0.45" filter="url(#b06)"/>
<path d="M209.5,397.8 L223,396.6 L223,398.4 L209.5,399.6 Z" fill="#000" fill-opacity="0.35" filter="url(#b06)"/>
<path d="M209.5,414.8 L223,413.6 L223,415.4 L209.5,416.6 Z" fill="#000" fill-opacity="0.55" filter="url(#b06)"/>
<path d="M209.5,422.1 L223,420.9 L223,422.7 L209.5,423.9 Z" fill="#000" fill-opacity="0.45" filter="url(#b06)"/>
<path d="M209.5,435.1 L223,433.9 L223,435.7 L209.5,436.9 Z" fill="#000" fill-opacity="0.30" filter="url(#b06)"/>
<path d="M209.5,443.4 L223,442.2 L223,444.0 L209.5,445.2 Z" fill="#000" fill-opacity="0.25" filter="url(#b06)"/>
<text transform="translate(253.5,321) scale(0.97,1)" font-size="7.2" font-weight="bold" text-anchor="end" fill="#1a1a1a">kD</text>
<text transform="translate(253.5,330.0) scale(1.36,1)" font-size="6.6" font-weight="bold" text-anchor="end" fill="#1a1a1a">250</text>
<text transform="translate(253.5,345.5) scale(1.36,1)" font-size="6.6" font-weight="bold" text-anchor="end" fill="#1a1a1a">150</text>
<text transform="translate(253.5,360.6) scale(1.36,1)" font-size="6.6" font-weight="bold" text-anchor="end" fill="#1a1a1a">100</text>
<text transform="translate(253.5,372.4) scale(1.36,1)" font-size="6.6" font-weight="bold" text-anchor="end" fill="#1a1a1a">75</text>
<text transform="translate(253.5,388.7) scale(1.36,1)" font-size="6.6" font-weight="bold" text-anchor="end" fill="#1a1a1a">50</text>
<text transform="translate(253.5,400.6) scale(1.36,1)" font-size="6.6" font-weight="bold" text-anchor="end" fill="#1a1a1a">37</text>
<text transform="translate(253.5,415.9) scale(1.36,1)" font-size="6.6" font-weight="bold" text-anchor="end" fill="#1a1a1a">25</text>
<text transform="translate(253.5,424.3) scale(1.36,1)" font-size="6.6" font-weight="bold" text-anchor="end" fill="#1a1a1a">20</text>
<text transform="translate(253.5,434.5) scale(1.36,1)" font-size="6.6" font-weight="bold" text-anchor="end" fill="#1a1a1a">15</text>
<text transform="translate(253.5,443.9) scale(1.36,1)" font-size="6.6" font-weight="bold" text-anchor="end" fill="#1a1a1a">10</text>
<path d="M273.5,325.2 L286.0,325.8 L286.0,328.0 L273.5,327.4 Z" fill="#000" fill-opacity="0.70" filter="url(#b06)"/>
<path d="M272.0,341.4 L285.0,342.2 L285.0,344.4 L272.0,343.6 Z" fill="#000" fill-opacity="0.45" filter="url(#b06)"/>
<path d="M271.0,355.9 L284.0,356.7 L284.0,358.9 L271.0,358.1 Z" fill="#000" fill-opacity="0.45" filter="url(#b06)"/>
<path d="M270.0,366.4 L283.0,367.4 L283.0,369.6 L270.0,368.6 Z" fill="#000" fill-opacity="0.60" filter="url(#b06)"/>
<path d="M269.5,383.3 L282.7,384.5 L282.7,386.7 L269.5,385.5 Z" fill="#000" fill-opacity="0.65" filter="url(#b06)"/>
<path d="M268.8,394.9 L282.0,396.4 L282.0,398.7 L268.8,397.2 Z" fill="#000" fill-opacity="0.50" filter="url(#b06)"/>
<path d="M263.8,412.7 L279.7,413.9 L279.7,416.1 L263.8,414.9 Z" fill="#000" fill-opacity="0.75" filter="url(#b06)"/>
<path d="M264.8,420.5 L278.7,422.5 L278.7,424.7 L264.8,422.7 Z" fill="#000" fill-opacity="0.60" filter="url(#b06)"/>
<path d="M262.8,429.7 L279.7,432.7 L279.7,434.9 L262.8,431.9 Z" fill="#000" fill-opacity="0.45" filter="url(#b06)"/>
<path d="M260.0,437.4 L278.7,441.9 L278.7,444.2 L260.0,439.7 Z" fill="#000" fill-opacity="0.35" filter="url(#b06)"/>
<path d="M294,331 L312,331 L313,374 L291.5,374 Z" fill="#000" fill-opacity="0.12" filter="url(#b15)"/>
<rect x="293.5" y="347" width="18.5" height="12" fill="#000" fill-opacity="0.2" filter="url(#b1)"/>
<rect x="293.5" y="345.2" width="18.5" height="3.2" fill="#333" filter="url(#b06)"/>
<rect x="293.5" y="350" width="18.5" height="3" fill="#000" fill-opacity="0.2" filter="url(#b06)"/>
<rect x="293.5" y="357" width="18.5" height="3.8" fill="#5a5a5a" filter="url(#b06)"/>
<rect x="305" y="357.3" width="7.5" height="3.6" fill="#3a3a3a" filter="url(#b06)"/>
<path d="M292,373.5 L312.8,373.5 L313.2,423 Q302,427 291.5,423 Z" fill="#5a5a5a" filter="url(#b1)"/>
<rect x="292" y="375.0" width="20.8" height="9.0" fill="#000" fill-opacity="0.70" filter="url(#b06)"/>
<rect x="292" y="388.0" width="20.8" height="6.0" fill="#000" fill-opacity="0.55" filter="url(#b06)"/>
<rect x="292" y="396.0" width="20.8" height="3.0" fill="#000" fill-opacity="0.30" filter="url(#b06)"/>
<rect x="292" y="401.0" width="20.8" height="3.0" fill="#000" fill-opacity="0.30" filter="url(#b06)"/>
<rect x="292" y="408.0" width="20.8" height="15.0" fill="#000" fill-opacity="0.60" filter="url(#b06)"/>
<path d="M339.5,337 L353,337 L355,378 L337.5,378 Z" fill="#000" fill-opacity="0.1" filter="url(#b15)"/>
<path d="M337.5,378 L356.5,378 L357,430 Q347,433 337.5,430 Z" fill="#000" fill-opacity="0.17" filter="url(#b15)"/>
<rect x="345.5" y="343" width="5.5" height="20" fill="#000" fill-opacity="0.18" filter="url(#b15)"/>
<rect x="337.5" y="378.8" width="19" height="2.8" fill="#000" fill-opacity="0.6" filter="url(#b06)"/>
<rect x="337.5" y="383.5" width="19" height="16" fill="#000" fill-opacity="0.22" filter="url(#b1)"/>
<rect x="337.5" y="388" width="19" height="3" fill="#000" fill-opacity="0.2" filter="url(#b06)"/>
<rect x="337.5" y="399" width="19" height="24" fill="#000" fill-opacity="0.14" filter="url(#b1)"/>
<rect x="337.5" y="421.5" width="19" height="4" fill="#000" fill-opacity="0.18" filter="url(#b06)"/>
<ellipse cx="326" cy="412" rx="9" ry="22" fill="#fff" fill-opacity="0.8" filter="url(#b25)"/>
<text transform="translate(107.3,464.3) scale(1.12,1)" font-size="10" font-weight="bold" text-anchor="middle" fill="#111">1</text>
<text transform="translate(130.0,464.3) scale(1.12,1)" font-size="10" font-weight="bold" text-anchor="middle" fill="#111">2</text>
<text transform="translate(168.5,464.3) scale(1.12,1)" font-size="10" font-weight="bold" text-anchor="middle" fill="#111">3</text>
<text transform="translate(191.5,464.3) scale(1.12,1)" font-size="10" font-weight="bold" text-anchor="middle" fill="#111">4</text>
<text transform="translate(216.6,464.3) scale(1.12,1)" font-size="10" font-weight="bold" text-anchor="middle" fill="#111">5</text>
<text transform="translate(269.6,464.3) scale(1.12,1)" font-size="10" font-weight="bold" text-anchor="middle" fill="#111">1</text>
<text transform="translate(302.7,464.3) scale(1.12,1)" font-size="10" font-weight="bold" text-anchor="middle" fill="#111">2</text>
<text transform="translate(349.6,464.3) scale(1.12,1)" font-size="10" font-weight="bold" text-anchor="middle" fill="#111">3</text>
</svg></body></html>
